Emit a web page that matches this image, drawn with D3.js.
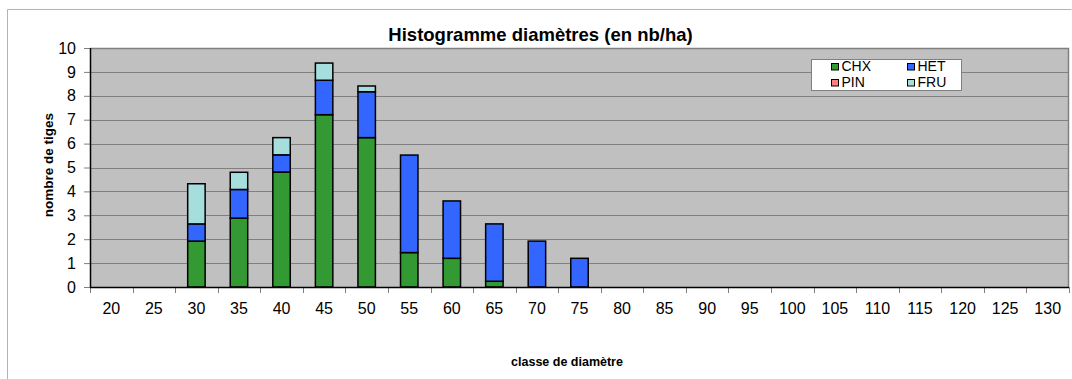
<!DOCTYPE html>
<html>
<head>
<meta charset="utf-8">
<script src="https://cdn.jsdelivr.net/npm/d3@7"></script>
<style>
  html, body { margin: 0; padding: 0; background: #ffffff; }
  svg { display: block; font-family: "Liberation Sans", Arial, sans-serif; }
</style>
</head>
<body>
<svg id="chart" width="1072" height="379"></svg>
<script>
// Diameter classes (cm)
const classes = ["20","25","30","35","40","45","50","55","60","65","70","75","80","85","90","95","100","105","110","115","120","125","130"];
// Stems per hectare by species group
const chx = [0, 0, 1.92, 2.88, 4.81, 7.21, 6.25, 1.44, 1.20, 0.24, 0, 0, 0, 0, 0, 0, 0, 0, 0, 0, 0, 0, 0];
const het = [0, 0, 0.72, 1.20, 0.72, 1.44, 1.92, 4.08, 2.40, 2.40, 1.92, 1.20, 0, 0, 0, 0, 0, 0, 0, 0, 0, 0, 0];
const pin = [0, 0, 0, 0, 0, 0, 0, 0, 0, 0, 0, 0, 0, 0, 0, 0, 0, 0, 0, 0, 0, 0, 0];
const fru = [0, 0, 1.68, 0.72, 0.72, 0.72, 0.24, 0, 0, 0, 0, 0, 0, 0, 0, 0, 0, 0, 0, 0, 0, 0, 0];
const seriesNames = ["CHX", "HET", "PIN", "FRU"];
const seriesColors = ["#339933", "#3366ff", "#ff8080", "#a6dede"];
const yTicks = [0, 1, 2, 3, 4, 5, 6, 7, 8, 9, 10];

const svg = d3.select("#chart");
const plot = { left: 90, right: 1069, top: 48, bottom: 287 };

// Outer chart frame (top and left edges visible)
svg.append("line").attr("x1", 7.5).attr("x2", 1071.5).attr("y1", 9.5).attr("y2", 9.5)
  .attr("stroke", "#b4b4b4").attr("stroke-width", 1);
svg.append("line").attr("x1", 7.5).attr("x2", 7.5).attr("y1", 9.5).attr("y2", 379)
  .attr("stroke", "#b4b4b4").attr("stroke-width", 1);

const x = d3.scaleBand().domain(classes).range([plot.left, plot.right])
  .paddingInner(0.59).paddingOuter(0.295);
const xStep = d3.scaleBand().domain(classes).range([plot.left, plot.right]).padding(0);
const y = d3.scaleLinear().domain([0, 10]).range([plot.bottom, plot.top]);

// Plot background
svg.append("rect").attr("x", plot.left).attr("y", plot.top)
  .attr("width", plot.right - plot.left).attr("height", plot.bottom - plot.top)
  .attr("fill", "#c0c0c0");

// Horizontal gridlines
svg.append("g").selectAll("line").data(yTicks.filter(t => t > 0 && t < 10)).join("line")
  .attr("x1", plot.left).attr("x2", plot.right)
  .attr("y1", d => Math.round(y(d)) + 0.5).attr("y2", d => Math.round(y(d)) + 0.5)
  .attr("stroke", "#808080").attr("stroke-width", 1);

// Plot border top/right
svg.append("path")
  .attr("d", `M${plot.left},${plot.top + 0.5}H${plot.right - 0.5}V${plot.bottom}`)
  .attr("fill", "none").attr("stroke", "#808080").attr("stroke-width", 1.5);

// Stacked bars
const table = classes.map((c, i) => ({ cls: c, CHX: chx[i], HET: het[i], PIN: pin[i], FRU: fru[i] }));
const stacked = d3.stack().keys(seriesNames)(table);

const barG = svg.append("g");
stacked.forEach((layer, k) => {
  barG.append("g").attr("fill", seriesColors[k])
    .selectAll("rect")
    .data(layer.filter(d => d[1] - d[0] > 0))
    .join("rect")
    .attr("x", d => x(d.data.cls))
    .attr("width", x.bandwidth())
    .attr("y", d => y(d[1]))
    .attr("height", d => y(d[0]) - y(d[1]))
    .attr("stroke", "#000")
    .attr("stroke-width", 1.5);
});

// Y axis
const yAxis = d3.axisLeft(y).tickValues(yTicks).tickSize(6).tickPadding(8).tickFormat(d3.format("d"));
const yg = svg.append("g").attr("transform", `translate(${plot.left},0)`).call(yAxis);
yg.select(".domain").remove();
yg.selectAll(".tick line").attr("stroke", "#808080");
yg.selectAll("text").attr("font-size", 16).attr("fill", "#000")
  .attr("font-family", "Liberation Sans, Arial, sans-serif");
svg.append("line").attr("x1", plot.left + 0.5).attr("x2", plot.left + 0.5)
  .attr("y1", plot.top).attr("y2", plot.bottom + 0.5).attr("stroke", "#000").attr("stroke-width", 1.5);

// X axis: ticks between categories, labels centred in each class
const xg = svg.append("g");
const boundaries = classes.map(c => xStep(c)).concat([plot.right]);
xg.selectAll("line.tick").data(boundaries).join("line")
  .attr("class", "tick")
  .attr("x1", d => Math.round(d) + 0.5).attr("x2", d => Math.round(d) + 0.5)
  .attr("y1", plot.bottom).attr("y2", plot.bottom + 6)
  .attr("stroke", "#808080");
xg.selectAll("text").data(classes).join("text")
  .attr("x", d => xStep(d) + xStep.bandwidth() / 2)
  .attr("y", 314)
  .attr("text-anchor", "middle")
  .attr("font-size", 16)
  .attr("fill", "#000")
  .text(d => d);
svg.append("line").attr("x1", plot.left).attr("x2", plot.right)
  .attr("y1", plot.bottom + 0.5).attr("y2", plot.bottom + 0.5).attr("stroke", "#000").attr("stroke-width", 1.5);

// Titles
svg.append("text").attr("x", 540.5).attr("y", 41).attr("text-anchor", "middle")
  .attr("font-size", 18.5).attr("font-weight", "bold").text("Histogramme diamètres (en nb/ha)");
svg.append("text").attr("x", 567).attr("y", 366).attr("text-anchor", "middle")
  .attr("font-size", 12.5).attr("font-weight", "bold").text("classe de diamètre");
svg.append("text").attr("transform", "translate(53,165) rotate(-90)").attr("text-anchor", "middle")
  .attr("font-size", 13.5).attr("font-weight", "bold").text("nombre de tiges");

// Legend
const legend = svg.append("g");
legend.append("rect").attr("x", 811.5).attr("y", 59.5).attr("width", 150).attr("height", 31)
  .attr("fill", "#ffffff").attr("stroke", "#808080").attr("stroke-width", 1);
const legendPos = [[831, 63], [907, 63], [831, 79], [907, 79]];
seriesNames.forEach((name, k) => {
  const [lx, ly] = legendPos[k];
  legend.append("rect").attr("x", lx + 0.5).attr("y", ly + 0.5).attr("width", 7).attr("height", 6.5)
    .attr("fill", seriesColors[k]).attr("stroke", "#000").attr("stroke-width", 1);
  legend.append("text").attr("x", lx + 10.5).attr("y", ly + 8).attr("font-size", 14)
    .attr("fill", "#000").text(name);
});
</script>
</body>
</html>
